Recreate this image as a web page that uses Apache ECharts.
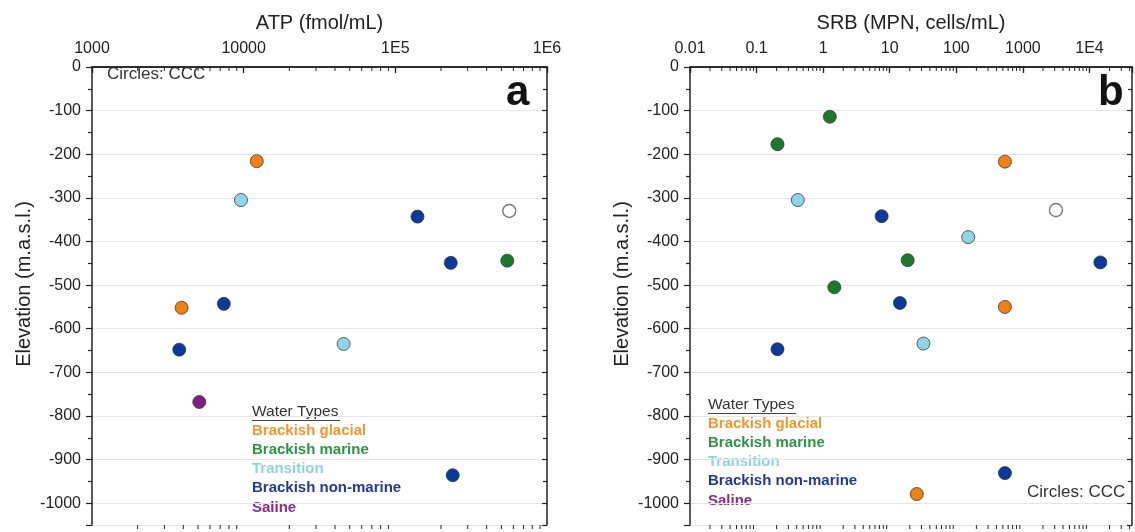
<!DOCTYPE html>
<html><head><meta charset="utf-8">
<script src="https://cdn.jsdelivr.net/npm/echarts@6/dist/echarts.min.js"></script>
<style>html,body{margin:0;padding:0;background:#fff}#c{width:1135px;height:532px}</style>
</head><body><div id="c"></div>
<script>
// ---- categories & colours ----
const waterTypes = ['Brackish glacial', 'Brackish marine', 'Transition', 'Brackish non-marine', 'Saline'];
const markerColors = ['#F0800F', '#1A7A2C', '#8ED5EA', '#0B3A9A', '#7D1E80'];
const legendColors = ['#F2962F', '#2E9540', '#8CD2E8', '#22399A', '#8B2C8C'];
const cccName = 'CCC';

// ---- tick labels ----
const atpTickLabels = ['1000', '10000', '1E5', '1E6'];          // 10^3 .. 10^6
const srbTickLabels = ['0.01', '0.1', '1', '10', '100', '1000', '1E4']; // 10^-2 .. 10^4

// ---- panel a: ATP (fmol/mL) vs elevation (m.a.s.l.) ----
const atpGlacial    = [[12200, -216], [3900, -552]];
const atpMarine     = [[547000, -444]];
const atpTransition = [[9600, -305], [45600, -635]];
const atpNonMarine  = [[140000, -343], [232000, -449], [7400, -543], [3760, -648], [239000, -936]];
const atpSaline     = [[5100, -768]];
const atpCCC        = [[564000, -330]];

// ---- panel b: SRB (MPN, cells/mL) vs elevation ----
const srbGlacial    = [[537, -217], [537, -550], [25.5, -979]];
const srbMarine     = [[1.26, -114], [0.206, -177], [18.6, -443], [1.47, -505]];
const srbTransition = [[0.416, -305], [151, -390], [32.1, -634]];
const srbNonMarine  = [[7.56, -342], [14550, -448], [14.2, -541], [0.206, -647], [537, -931]];
const srbSaline     = [];
const srbCCC        = [[3135, -328]];

const ELEV_MIN = -1050, ELEV_MAX = 0;
const ATP_MIN = 1e3, ATP_MAX = 1e6;
const SRB_MIN = 1e-2, SRB_MAX = 4.35e4;

const FONT = 'Liberation Sans';

function decadeFormatter(labels, firstExp) {
  return function (v) {
    const l = Math.log10(v), e = Math.round(l);
    if (Math.abs(l - e) > 1e-6) return '';
    return labels[e - firstExp] || '';
  };
}
function minorTicks(min, max) {
  const out = [];
  for (let e = Math.floor(Math.log10(min)); e <= Math.ceil(Math.log10(max)); e++) {
    for (let k = 2; k <= 9; k++) {
      const v = k * Math.pow(10, e);
      if (v > min && v < max) out.push([v, 0]);
    }
  }
  return out;
}

const axisLine = { show: true, lineStyle: { color: '#222', width: 1.5 } };

function xAxes(gridIndex, min, max, name, labels, firstExp) {
  return [
    { type: 'log', logBase: 10, gridIndex, position: 'top', min, max, interval: 1,
      name, nameLocation: 'middle', nameGap: 34,
      nameTextStyle: { fontFamily: FONT, fontSize: 20, color: '#222' },
      axisLine, axisTick: { show: true, inside: true, length: 6, lineStyle: { color: '#222', width: 1.2 } },
      axisLabel: { show: true, margin: 10, fontFamily: FONT, fontSize: 16, color: '#222',
                   formatter: decadeFormatter(labels, firstExp) },
      splitLine: { show: false }, minorTick: { show: false } },
    { type: 'log', logBase: 10, gridIndex, position: 'bottom', min, max, interval: 1,
      axisLine, axisTick: { show: true, inside: false, length: 6, lineStyle: { color: '#222', width: 1.2 } },
      axisLabel: { show: false }, splitLine: { show: false } }
  ];
}
function yAxes(gridIndex, withName) {
  return [
    { type: 'value', gridIndex, position: 'left', min: ELEV_MIN, max: ELEV_MAX, splitNumber: 10,
      name: withName ? 'Elevation (m.a.s.l.)' : '', nameLocation: 'middle', nameGap: 58, nameRotate: 90,
      nameTextStyle: { fontFamily: FONT, fontSize: 20, color: '#222', padding: [0, 0, 0, 24] },
      axisLine, axisTick: { show: true, inside: false, length: 6, lineStyle: { color: '#222', width: 1.2 } },
      minorTick: { show: true, splitNumber: 2, length: 4, lineStyle: { color: '#222', width: 1.2 } },
      axisLabel: { margin: 11, fontFamily: FONT, fontSize: 16, color: '#222', showMinLabel: false,
                   formatter: v => String(v) },
      splitLine: { show: true, lineStyle: { color: '#e6e6e6', width: 1 } } },
    { type: 'value', gridIndex, position: 'right', min: ELEV_MIN, max: ELEV_MAX, splitNumber: 10,
      axisLine, axisTick: { show: true, inside: true, length: 5, lineStyle: { color: '#222', width: 1.2 } },
      minorTick: { show: true, splitNumber: 2, length: 4, lineStyle: { color: '#222', width: 1.2 } },
      axisLabel: { show: false }, splitLine: { show: false } }
  ];
}

function minorTickSeries(xAxisIndex, yAxisIndex, min, max) {
  return {
    type: 'custom', xAxisIndex, yAxisIndex, silent: true, z: 5,
    data: minorTicks(min, max),
    renderItem: function (params, api) {
      const v = api.value(0);
      const t = api.coord([v, ELEV_MAX]);
      const b = api.coord([v, ELEV_MIN]);
      const st = { stroke: '#222', lineWidth: 1 };
      return { type: 'group', children: [
        { type: 'line', shape: { x1: t[0], y1: t[1], x2: t[0], y2: t[1] + 4 }, style: st },
        { type: 'line', shape: { x1: b[0], y1: b[1], x2: b[0], y2: b[1] + 4 }, style: st }
      ] };
    }
  };
}

function scatter(name, data, color, xAxisIndex, yAxisIndex, open) {
  return {
    type: 'scatter', name, data, xAxisIndex, yAxisIndex, symbol: 'circle', symbolSize: 13, z: 10,
    itemStyle: open ? { color: '#fff', borderColor: '#7a7a7a', borderWidth: 1.4, opacity: 1 }
                    : { color, borderColor: '#3a3a3a', borderWidth: 0.8, opacity: 1 }
  };
}

const atpSets = [atpGlacial, atpMarine, atpTransition, atpNonMarine, atpSaline];
const srbSets = [srbGlacial, srbMarine, srbTransition, srbNonMarine, srbSaline];

const series = [minorTickSeries(0, 0, ATP_MIN, ATP_MAX), minorTickSeries(2, 2, SRB_MIN, SRB_MAX)];
waterTypes.forEach((w, i) => {
  series.push(scatter(w, atpSets[i], markerColors[i], 0, 0));
  series.push(scatter(w, srbSets[i], markerColors[i], 2, 2));
});
series.push(scatter(cccName, atpCCC, null, 0, 0, true));
series.push(scatter(cccName, srbCCC, null, 2, 2, true));

function legendGraphics(x, y0, gap) {
  const g = [];
  g.push({ type: 'text', left: x, top: y0 - 9, style: { text: 'Water Types', fill: '#333',
           font: '15.5px "' + FONT + '"' } });
  g.push({ type: 'line', shape: { x1: x, y1: y0 + 7.5, x2: x + 88, y2: y0 + 7.5 }, style: { stroke: '#444', lineWidth: 1 } });
  waterTypes.forEach((w, i) => {
    g.push({ type: 'text', left: x, top: y0 + gap * (i + 1) - 9,
             style: { text: w, fill: legendColors[i], font: 'bold 15px "' + FONT + '"' } });
  });
  return g;
}

const graphic = [].concat(
  legendGraphics(252, 413, 19.2),
  legendGraphics(708, 406, 19.2),
  [
    { type: 'text', left: 107, top: 66, style: { text: 'Circles: CCC', fill: '#333', font: '17px "' + FONT + '"' } },
    { type: 'text', left: 1027, top: 484, style: { text: 'Circles: CCC', fill: '#333', font: '17px "' + FONT + '"' } },
    { type: 'text', left: 506, top: 72, style: { text: 'a', fill: '#111', font: 'bold 42px "' + FONT + '"' } },
    { type: 'text', left: 1098, top: 72, style: { text: 'b', fill: '#111', font: 'bold 42px "' + FONT + '"' } }
  ]
);

const chart = echarts.init(document.getElementById('c'), null, { renderer: 'canvas' });
chart.setOption({
  animation: false,
  backgroundColor: '#fff',
  textStyle: { fontFamily: FONT },
  grid: [
    { left: 92, right: 588, top: 67, bottom: 7 },
    { left: 690, right: -3, top: 67, bottom: 7 }
  ],
  xAxis: [].concat(
    xAxes(0, ATP_MIN, ATP_MAX, 'ATP (fmol/mL)', atpTickLabels, 3),
    xAxes(1, SRB_MIN, SRB_MAX, 'SRB (MPN, cells/mL)', srbTickLabels, -2)
  ),
  yAxis: [].concat(yAxes(0, true), yAxes(1, true)),
  series,
  graphic
});
</script></body></html>
